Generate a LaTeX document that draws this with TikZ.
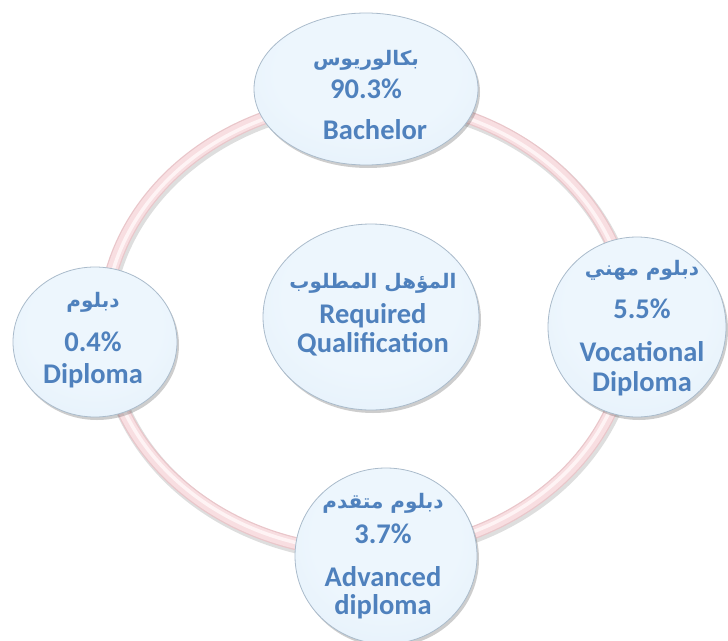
\documentclass[tikz,border=0pt]{standalone}
\usepackage{fontspec}
\setmainfont{Carlito}
\newfontfamily\arabicfont[Script=Arabic]{DejaVu Sans}
\TeXXeTstate=1
\usetikzlibrary{shapes.geometric,shadows}
\definecolor{txtblue}{HTML}{4F81BD}
\definecolor{bA}{HTML}{EDF6FD}
\definecolor{bB}{HTML}{E2EFFA}
\definecolor{bC}{HTML}{CFDDE9}
\definecolor{bEdge}{HTML}{AABBCB}
\definecolor{ringA}{HTML}{E9C6CA}
\definecolor{ringB}{HTML}{F8DEE1}
\definecolor{ringC}{HTML}{FEF3F4}
\pgfdeclareradialshading{bubbleshade}{\pgfpoint{0bp}{8bp}}{color(0bp)=(bA); color(20bp)=(bA); color(40bp)=(bB); color(50bp)=(bC); color(60bp)=(bC)}
\begin{document}
\begin{tikzpicture}[x=1pt,y=-1pt,
  bubble/.style={ellipse, inner sep=0pt, draw=bEdge, line width=0.8pt,
    shading=bubbleshade,
    drop shadow={shadow xshift=2pt, shadow yshift=-3pt, opacity=0.28, fill=black!70}},
  lat/.style={text=txtblue, font=\bfseries\fontsize{28.5}{32}\selectfont, anchor=base, inner sep=0pt},
  ar/.style={text=txtblue, font=\arabicfont\bfseries\fontsize{20}{24}\selectfont, anchor=base, inner sep=0pt}]
\useasboundingbox (0,0) rectangle (728,640);
% ring
\coordinate (rc) at (367,326);
\draw[black, opacity=0.13, line width=15pt] ([xshift=1.5pt,yshift=-2.5pt]rc) ellipse [x radius=263pt, y radius=226pt];
\draw[ringA, line width=13pt] (rc) ellipse [x radius=263pt, y radius=226pt];
\draw[ringB, line width=10.5pt] (rc) ellipse [x radius=263pt, y radius=226pt];
\draw[ringC, line width=3.5pt] (rc) ellipse [x radius=262pt, y radius=225pt];
% bubbles
\node[bubble, minimum width=224pt, minimum height=152pt] (top) at (366,89) {};
\node[bubble, minimum width=164pt, minimum height=150pt] (left) at (95,342) {};
\node[bubble, minimum width=178pt, minimum height=180pt] (right) at (637,327) {};
\node[bubble, minimum width=182pt, minimum height=176pt] (bottom) at (386,556) {};
\node[bubble, minimum width=216pt, minimum height=186pt] (center) at (371,317) {};
% texts top
\node[ar] (topar) at (366,65) {\beginR بكالوريوس\endR};
\node[lat] (toppc) at (366,98) {90.3\%};
\node[lat] (topen) at (375,139) {Bachelor};
% left
\node[ar] (leftar) at (93,307) {\beginR دبلوم\endR};
\node[lat] (leftpc) at (93,351) {0.4\%};
\node[lat] (leften) at (93,383) {Diploma};
% right
\node[ar] (rightar) at (642,275) {\beginR دبلوم مهني\endR};
\node[lat] (rightpc) at (642,318) {5.5\%};
\node[lat] (righten1) at (642,361) {Vocational};
\node[lat] (righten2) at (642,391) {Diploma};
% bottom
\node[ar] (botar) at (383,508) {\beginR دبلوم متقدم\endR};
\node[lat] (botpc) at (383,543) {3.7\%};
\node[lat] (boten1) at (383,586) {Advanced};
\node[lat] (boten2) at (383,614) {diploma};
% center
\node[ar] (cenar) at (373,288) {\beginR المؤهل المطلوب\endR};
\node[lat] (cenen1) at (373,323) {Required};
\node[lat] (cenen2) at (373,352) {Qualification};
\end{tikzpicture}
\end{document}
